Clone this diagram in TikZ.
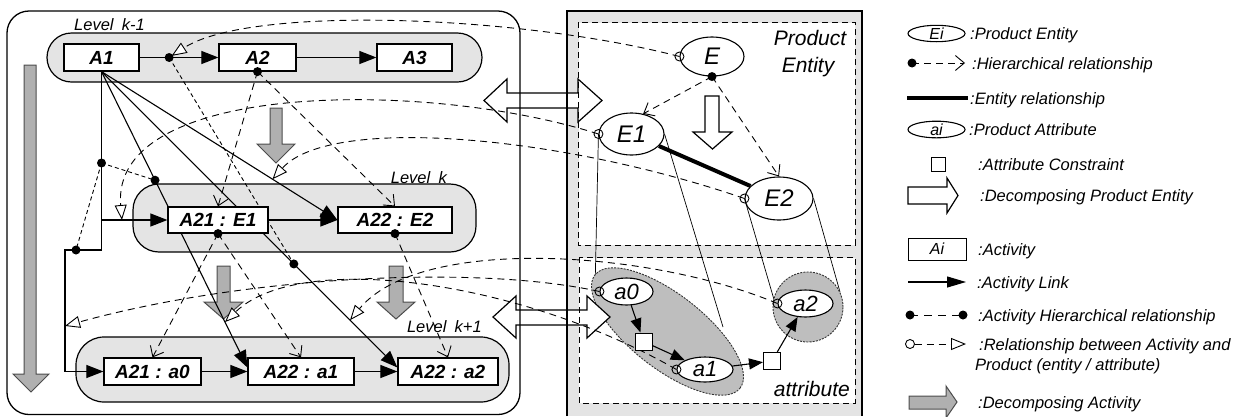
\documentclass[tikz,border=0pt]{standalone}
\usepackage{fontspec}
\setmainfont{Liberation Sans}
\usetikzlibrary{arrows.meta,shapes.geometric,calc}
\definecolor{bandgray}{RGB}{228,228,228}
\definecolor{grpgray}{RGB}{190,190,190}
\definecolor{decgray}{RGB}{176,176,176}
\pgfdeclarelayer{bg}
\pgfdeclarelayer{mid}
\pgfsetlayers{bg,mid,main}
\tikzset{
  frame/.style={line width=1.3pt},
  boxdash/.style={line width=1pt, dash pattern=on 6pt off 4pt},
  lane/.style={draw, line width=1.2pt, fill=bandgray},
  lvl/.style={anchor=base west, inner sep=0pt, font=\fontsize{16.5}{19}\selectfont\itshape},
  act/.style={draw, fill=white, line width=1.2pt, inner sep=0pt, minimum height=27pt,
    font=\fontsize{19}{22}\selectfont\bfseries\itshape},
  ent/.style={ellipse, draw, fill=white, line width=1.1pt, inner sep=0pt,
    font=\fontsize{24}{28}\selectfont\itshape},
  attr/.style={ellipse, draw, fill=white, line width=1.1pt, inner sep=0pt,
    font=\fontsize{22}{26}\selectfont\itshape},
  cons/.style={draw, fill=white, line width=1pt, inner sep=0pt, minimum size=17pt},
  grp/.style={ellipse, draw=black!80, fill=grpgray, line width=0.9pt,
    dash pattern=on 2pt off 1.2pt, inner sep=0pt},
  link/.style={line width=1.1pt, -{Triangle[length=17pt,width=13pt]}},
  hier/.style={line width=0.9pt, dash pattern=on 7pt off 5pt, -{Straight Barb[length=9pt,width=15pt]}},
  ahier/.style={line width=0.9pt, dash pattern=on 4pt off 3pt},
  rel/.style={line width=0.9pt, dash pattern=on 7pt off 5pt, -{Triangle[length=15pt,width=12pt,fill=white]}},
  proj/.style={line width=0.7pt},
  whitearrow/.style={draw, line width=1.2pt, fill=white, line join=miter},
  grayarrow/.style={draw=black!70, line width=1pt, fill=decgray, line join=miter},
  dot/.style={fill=black},
  ocirc/.style={draw, line width=0.9pt},
  lab/.style={anchor=base west, inner sep=0pt, font=\fontsize{16.5}{19}\selectfont\itshape},
  txt/.style={inner sep=0pt, font=\fontsize{21}{25}\selectfont\itshape}
}
\begin{document}
\begin{tikzpicture}[x=1pt,y=-1pt]
\useasboundingbox (0,0) rectangle (1239,416);

% ---------- activities ----------
\node[act, minimum width=75pt] (A1) at (101.5,57.5) {A1};
\node[act, minimum width=77pt] (A2) at (257.5,57.5) {A2};
\node[act, minimum width=75pt] (A3) at (414.5,57.5) {A3};
\node[act, minimum width=100pt, minimum height=26pt] (A21E1) at (218,220) {A21 : E1};
\node[act, minimum width=114pt, minimum height=26pt] (A22E2) at (395,220) {A22 : E2};
\node[act, minimum width=97pt] (A21a0) at (152.5,371.5) {A21 : a0};
\node[act, minimum width=106pt] (A22a1) at (301,371.5) {A22 : a1};
\node[act, minimum width=100pt] (A22a2) at (448,371.5) {A22 : a2};

% ---------- product entities and attributes ----------
\node[ent, minimum width=64pt, minimum height=39pt] (E) at (712,56.5) {E};
\node[ent, minimum width=65pt, minimum height=42pt] (E1) at (631.5,134) {E1};
\node[ent, minimum width=68pt, minimum height=43pt] (E2) at (779,198.5) {E2};
\node[attr, minimum width=53pt, minimum height=27pt] (a0) at (626.5,291.5) {a0};
\node[attr, minimum width=56pt, minimum height=25pt] (a1) at (705,369.5) {a1};
\node[attr, minimum width=55pt, minimum height=27pt] (a2) at (805.5,303.5) {a2};
\node[cons] (s1) at (643.5,341.5) {};
\node[cons] (s2) at (772,361) {};

% ---------- background: frames, lanes, block arrows ----------
\begin{pgfonlayer}{bg}
  % product frame: grey border band around two white areas
  \fill[bandgray] (567,11) rectangle (578.5,416);
  \fill[bandgray] (854.5,11) rectangle (862,416);
  \fill[bandgray] (567,11) rectangle (862,22.5);
  \fill[bandgray] (567,244.5) rectangle (862,257.5);
  \fill[bandgray] (567,402.5) rectangle (862,416);
  % levels
  \draw[lane, rounded corners=24.5pt] (47,33) rectangle (482,82);
  \draw[lane, rounded corners=26pt] (133,184) rectangle (476,252);
  \draw[lane, rounded corners=28pt] (76,337) rectangle (509,402);
  \node[lvl] (Lk1) at (74,30) {Level\enspace k-1};
  \node[lvl, anchor=base east] (Lk) at (447,183) {Level\enspace k};
  \node[lvl, anchor=base east] (Lk2) at (482,332) {Level\enspace k+1};
  % decomposition arrows
  \draw[grayarrow] (24,65) -- (36,65) -- (36,374) -- (49,374) -- (31,392) -- (13,374) -- (24,374) -- cycle;
  \draw[grayarrow] (270,108) -- (282,108) -- (282,144) -- (295,144) -- (276,163) -- (257,144) -- (270,144) -- cycle;
  \draw[grayarrow] (217,266) -- (230,266) -- (230,302) -- (243,302) -- (223.5,319) -- (204,302) -- (217,302) -- cycle;
  \draw[grayarrow] (389,266) -- (403,266) -- (403,302) -- (415,302) -- (396,319) -- (377,302) -- (389,302) -- cycle;
  \draw[whitearrow] (705,96) -- (719,96) -- (719,132) -- (732,132) -- (712.5,149) -- (693,132) -- (705,132) -- cycle;
  % product labels
  \node[txt, anchor=base] (tP) at (810,45) {Product};
  \node[txt, anchor=base] (tE) at (808,72) {Entity};
  \node[txt, anchor=base east] (tA) at (850,396) {attribute};
  % projections of entities onto their attributes
  \coordinate (p1) at (595,290);
  \coordinate (p2) at (723,327);
  \coordinate (p3) at (775,303);
  \coordinate (p4) at (840,292);
  \draw[proj] (E1.west) -- (p1);
  \draw[proj] (E1.east) -- (p2);
  \draw[proj] (E2.west) -- (p3);
  \draw[proj] (E2.east) -- (p4);
  % attribute groups
  \node[grp, minimum width=184pt, minimum height=74pt, rotate=-38] (g1) at (667.5,331.5) {};
  \node[grp, minimum width=70pt, minimum height=70pt] (g2) at (808,307) {};
  % activity <-> product exchange arrows
  \draw[whitearrow] (484,100.5) -- (507,79) -- (507,93) -- (578,93) -- (578,79) -- (602,100.5)
    -- (578,122) -- (578,108) -- (507,108) -- (507,122) -- cycle;
  \draw[whitearrow] (493,317) -- (516,296) -- (516,310) -- (587,310) -- (587,296) -- (610,317)
    -- (587,338) -- (587,325) -- (516,325) -- (516,338) -- cycle;
  % frame lines
  \draw[frame, rounded corners=22pt] (7,11) rectangle (520,414.5);
  \draw[frame] (567,416) -- (567,11) -- (862,11) -- (862,416);
  \draw[boxdash] (578,22) rectangle (855,245);
  \draw[boxdash] (579,257) rectangle (855,403);
\end{pgfonlayer}

% ---------- connectors ----------
\coordinate (ja) at (101.5,220);
\coordinate (jb) at (101.5,250);
\coordinate (jc) at (65,250);
\coordinate (jd) at (65,371.5);
\coordinate (T1) at ($(A22a1.west)+(0,-4)$);
\coordinate (T2) at ($(A22a2.west)+(0,-4)$);
\coordinate (d1) at ($(A1.east)!0.375!(A2.west)$);
\coordinate (d2) at (101.5,163);
\coordinate (d3) at ($(A1.south)!0.367!(T1)$);
\coordinate (d4) at (76,250);
\coordinate (d5) at ($(A1.south)!0.65!(T2)$);
\coordinate (r2) at ($(ja)!0.31!(A21E1.west)$);
\coordinate (r3) at ($(A1.south)!0.725!(A22E2.west)$);
\coordinate (r4) at ($(jc)!0.625!(jd)$);
\coordinate (r5) at ($(A1.south)!0.8465!(T1)$);
\coordinate (r6) at ($(A1.south)!0.84!(T2)$);

\begin{pgfonlayer}{mid}
  % activity links
  \draw[link] (A1.south) -- (jb) -- (jc) -- (jd) -- (A21a0.west);
  \draw[link] (ja) -- (A21E1.west);
  \draw[link] (A1.south) -- (T1);
  \draw[link] (A1.south) -- (T2);
  \draw[link] (A1.south) -- (A22E2.west);
  \draw[link] (A1) -- (A2);
  \draw[link] (A2) -- (A3);
  \draw[link] (A21E1) -- (A22E2);
  \draw[link] (A21a0) -- (A22a1);
  \draw[link] (A22a1) -- (A22a2);
  % activity hierarchical relationships
  \draw[ahier] (d2) -- (d3);
  \draw[ahier] (d2) -- (d4);
  \draw[ahier] (d1) -- (d5);
  % hierarchical relationships
  \draw[hier] (A2.south) -- (A21E1.north);
  \draw[hier] (A2.south) -- (A22E2.north);
  \draw[hier] (A21E1.south) -- (A21a0.north);
  \draw[hier] (A21E1.south) -- (A22a1.north);
  \draw[hier] (A22E2.south) -- (A22a2.north);
  \draw[hier] (E.south) -- (E1.60);
  \draw[hier] (E.south) -- (E2.north);
  % entity relationship
  \draw[line width=4pt] (E1) -- (E2);
  % attribute constraints
  \draw[link, -{Triangle[length=14pt,width=11pt]}] (a0) -- (s1);
  \draw[link, -{Triangle[length=14pt,width=11pt]}] (s1) -- (a1);
  \draw[link, -{Triangle[length=14pt,width=11pt]}] (a1) -- (s2);
  \draw[link, -{Triangle[length=14pt,width=11pt]}] (s2) -- (a2);
  % activity / product relationships
  \draw[rel, shorten >=3pt] (E.west) .. controls (520,15) and (250,5) .. (d1);
  \draw[rel] (E1.west) .. controls (430,80) and (110,80) .. (r2);
  \draw[rel] (E2.west) .. controls (560,135) and (330,115) .. (r3);
  \draw[rel] (a0.west) .. controls (480,265) and (250,275) .. (r4);
  \draw[rel] (a1.west) .. controls (520,280) and (300,250) .. (r5);
  \draw[rel] (a2.west) .. controls (650,250) and (420,235) .. (r6);
\end{pgfonlayer}

% dots and open circles
\foreach \p in {d1,d2,d3,d4,d5,A2.south,A21E1.south,A22E2.south,E.south}
  \fill[dot] (\p) circle (4.5pt);
\foreach \p in {E.west,E1.west,E2.west,a0.west,a1.west,a2.west}
  \draw[ocirc] (\p) circle (4.5pt);

% ---------- legend ----------
\node[ent, minimum width=57pt, minimum height=16pt, font=\fontsize{16}{18}\selectfont\itshape] (LEi) at (936.5,33.5) {Ei};
\node[lab] at (970,39) {:Product Entity};
\coordinate (LH1) at (912,63);
\coordinate (LH2) at (965,63);
\draw[hier] (LH1) -- (LH2);
\fill[dot] (LH1) circle (4.5pt);
\node[lab] at (972,69) {:Hierarchical relationship};
\coordinate (LR1) at (907,98);
\coordinate (LR2) at (968,98);
\draw[line width=4pt] (LR1) -- (LR2);
\node[lab] at (970,104) {:Entity relationship};
\node[ent, minimum width=57pt, minimum height=16pt, font=\fontsize{16}{18}\selectfont\itshape] (Lai) at (936.5,129.5) {ai};
\node[lab] at (969,135) {:Product Attribute};
\node[cons, minimum size=14pt] (Lsq) at (938,164) {};
\node[lab] at (978,170) {:Attribute Constraint};
\draw[whitearrow] (908,187) -- (947,187) -- (947,178) -- (958,195.5) -- (947,213) -- (947,204) -- (908,204) -- cycle;
\node[lab] at (980,201) {:Decomposing Product Entity};
\node[act, minimum width=58pt, minimum height=22pt, line width=1pt, font=\fontsize{16}{18}\selectfont\itshape] (LAi) at (937,249) {Ai};
\node[lab] at (978,255) {:Activity};
\coordinate (LL1) at (908,282);
\coordinate (LL2) at (966,282);
\draw[link, -{Triangle[length=19pt,width=11pt]}] (LL1) -- (LL2);
\node[lab] at (977,288) {:Activity Link};
\coordinate (LA1) at (910,315);
\coordinate (LA2) at (963,315);
\draw[ahier, dash pattern=on 8pt off 6pt] (LA1) -- (LA2);
\fill[dot] (LA1) circle (4.5pt);
\fill[dot] (LA2) circle (4.5pt);
\node[lab] at (978,321) {:Activity Hierarchical relationship};
\coordinate (LQ1) at (910,344);
\coordinate (LQ2) at (966,344);
\draw[rel] ($(LQ1)+(4.5,0)$) -- (LQ2);
\draw[ocirc] (LQ1) circle (4.5pt);
\node[lab] at (979,350) {:Relationship between Activity and};
\node[lab] at (975,370) {Product (entity / attribute)};
\draw[grayarrow] (909,396) -- (946,396) -- (946,386) -- (957,402) -- (946,418) -- (946,409) -- (909,409) -- cycle;
\node[lab] at (978,408) {:Decomposing Activity};
\end{tikzpicture}
\end{document}
